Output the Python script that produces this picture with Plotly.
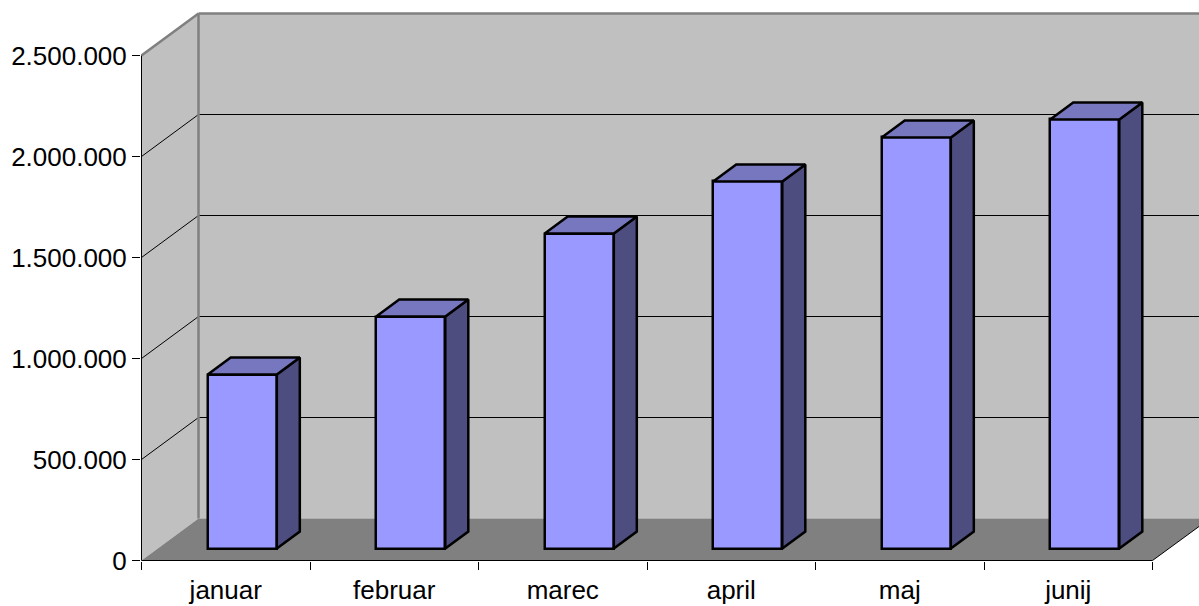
import plotly.graph_objects as go

months = ["januar", "februar", "marec", "april", "maj", "junij"]
values = [861000, 1148000, 1559000, 1817000, 2035000, 2124000]
y_ticks = [0, 500000, 1000000, 1500000, 2000000, 2500000]
y_labels = ["0", "500.000", "1.000.000", "1.500.000", "2.000.000", "2.500.000"]

# pixels per unit, used to keep the fake 3d lines on whole pixels
PX_X = 168.5
PX_Y = 505 / 2500000

# fake 3d, everything in axis units
WALL_DX = 57 / PX_X
WALL_DY = 42 / PX_Y
BAR_DX = 23 / PX_X
BAR_DY = 17 / PX_Y
BAR_SHIFT = 0.098
BAR_BASE = 12 / PX_Y
BAR_WIDTH = 0.41
X_MIN = -0.5 / PX_X
X_MAX = 1057.5 / PX_X
Y_MIN = -0.5 / PX_Y
Y_MAX = 560.5 / PX_Y

FRONT = "#9999ff"
SIDE = "#4d4d80"
TOP = "#7777bf"
WALL = "#c0c0c0"
FLOOR = "#808080"
EDGE = 2.5

centers = [i + 0.5 + BAR_SHIFT for i in range(len(months))]

fig = go.Figure()

fig.add_bar(
    x=centers,
    y=values,
    base=BAR_BASE,
    width=BAR_WIDTH,
    marker=dict(color=FRONT, line=dict(color="black", width=EDGE)),
    showlegend=False,
)

for c, v in zip(centers, values):
    left = c - BAR_WIDTH / 2
    right = c + BAR_WIDTH / 2
    low = BAR_BASE
    high = BAR_BASE + v
    fig.add_scatter(
        x=[right, right + BAR_DX, right + BAR_DX, right, right],
        y=[low, low + BAR_DY, high + BAR_DY, high, low],
        mode="lines",
        fill="toself",
        fillcolor=SIDE,
        line=dict(color="black", width=EDGE),
        showlegend=False,
    )
    fig.add_scatter(
        x=[left, left + BAR_DX, right + BAR_DX, right, left],
        y=[high, high + BAR_DY, high + BAR_DY, high, high],
        mode="lines",
        fill="toself",
        fillcolor=TOP,
        line=dict(color="black", width=EDGE),
        showlegend=False,
    )


def poly(xs, ys, color):
    path = "M" + " L".join(f"{x},{y}" for x, y in zip(xs, ys)) + " Z"
    return dict(type="path", path=path, fillcolor=color, line_width=0, layer="below")


def seg(x0, y0, x1, y1, color="black", width=1):
    return dict(type="line", x0=x0, y0=y0, x1=x1, y1=y1,
                line=dict(color=color, width=width), layer="below")


top = y_ticks[-1]
n = len(months)
edge_y = 34 / 42 * WALL_DY
shapes = [
    poly([WALL_DX, X_MAX, X_MAX, WALL_DX], [WALL_DY, WALL_DY, top + WALL_DY, top + WALL_DY], WALL),
    poly([0, WALL_DX, WALL_DX, 0], [0, WALL_DY, top + WALL_DY, top], WALL),
    poly([0, WALL_DX, X_MAX, X_MAX, n], [0, WALL_DY, WALL_DY, edge_y, 0], FLOOR),
]
for t in y_ticks[1:-1]:
    shapes.append(seg(0, t, WALL_DX, t + WALL_DY))
    shapes.append(seg(WALL_DX, t + WALL_DY, X_MAX, t + WALL_DY))
shapes += [
    seg(WALL_DX, WALL_DY, WALL_DX, top + WALL_DY, color=FLOOR, width=2.5),
    seg(WALL_DX, top + WALL_DY, X_MAX, top + WALL_DY, color=FLOOR, width=2.5),
    seg(0, top, WALL_DX, top + WALL_DY, color=FLOOR, width=2.5),
    seg(n, 0, X_MAX, edge_y),
    seg(0, 0, 0, top),
    seg(0, 0, n, 0),
]

fig.update_layout(
    width=1199,
    height=606,
    margin=dict(l=141, r=0, t=0, b=45),
    paper_bgcolor="white",
    plot_bgcolor="white",
    font=dict(family="Liberation Sans, Arial, sans-serif", size=26, color="black"),
    shapes=shapes,
    showlegend=False,
    bargap=0,
)
fig.update_xaxes(
    range=[X_MIN, X_MAX],
    tickvals=[i + 0.5 for i in range(n)],
    ticktext=months,
    ticks="",
    ticklabelstandoff=11,
    showgrid=False,
    zeroline=False,
    showline=False,
    minor=dict(tick0=0, dtick=1, ticks="outside", ticklen=8, tickcolor="black", tickwidth=1, showgrid=False),
)
fig.update_yaxes(
    range=[Y_MIN, Y_MAX],
    tickvals=y_ticks,
    ticktext=y_labels,
    ticks="outside",
    ticklen=8,
    tickcolor="black",
    tickwidth=1,
    ticklabelstandoff=0,
    showgrid=False,
    zeroline=False,
    showline=False,
)

# default page has an 8px body margin
fig.write_html(
    "out.html",
    config={"displayModeBar": False},
    post_script="document.body.style.margin='0';",
)
